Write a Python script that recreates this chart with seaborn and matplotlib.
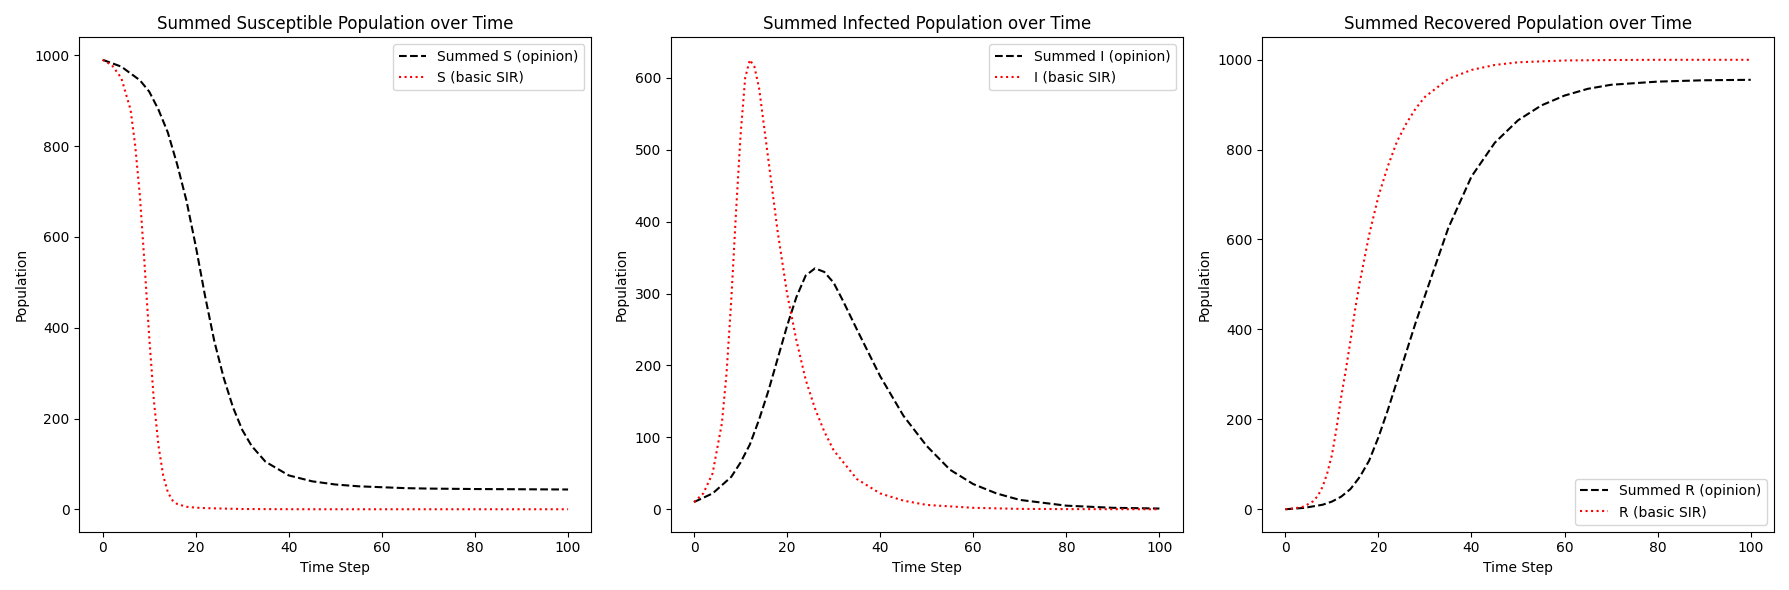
import numpy as np
import matplotlib
matplotlib.use("Agg")
import matplotlib.pyplot as plt
import seaborn as sns

# values
t_sir = [0, 2, 4, 6, 7, 8, 9, 10, 11, 12, 13, 14, 15, 16, 18, 20, 22, 24, 26, 28, 30, 35, 40, 45, 50, 60, 70, 80, 100]
s_sir = [990, 978, 950, 880, 800, 690, 540, 380, 240, 140, 75, 38, 20, 12, 6, 4, 3, 2.5, 2, 1.5, 1, 0.8, 0.6, 0.5, 0.5, 0.5, 0.5, 0.5, 0.5]
i_sir = [10, 22, 50, 120, 190, 290, 410, 520, 600, 625, 615, 585, 535, 485, 385, 300, 235, 180, 140, 108, 82, 42, 22, 12, 6, 2, 0.5, 0.2, 0]
r_sir = [0, 2, 6, 18, 30, 50, 80, 120, 180, 250, 310, 375, 445, 505, 610, 696, 762, 818, 858, 891, 917, 957, 977, 988, 994, 998, 999, 999.5, 999.5]

t_op = [0, 4, 8, 10, 12, 14, 16, 18, 20, 22, 24, 26, 28, 30, 32, 35, 40, 45, 50, 55, 60, 65, 70, 80, 90, 100]
s_op = [990, 975, 945, 920, 880, 830, 760, 680, 580, 470, 370, 290, 225, 175, 140, 105, 75, 62, 55, 51, 49, 47, 46, 45, 44.5, 44]
i_op = [10, 22, 45, 65, 90, 125, 165, 210, 255, 295, 325, 335, 330, 315, 290, 250, 185, 130, 88, 55, 35, 22, 13, 5, 2, 1]
r_op = [0, 3, 10, 17, 28, 45, 72, 108, 160, 220, 285, 350, 415, 475, 535, 625, 740, 815, 865, 898, 920, 935, 944, 951, 954, 955]

panels = [
    ("Susceptible", "S", s_op, s_sir, "upper right"),
    ("Infected", "I", i_op, i_sir, "upper right"),
    ("Recovered", "R", r_op, r_sir, "lower right"),
]

fig, axes = plt.subplots(1, 3, figsize=(17.89, 5.9), dpi=100)
for ax, (name, key, op, sir, loc) in zip(axes, panels):
    sns.lineplot(x=t_op, y=op, ax=ax, color="black", linestyle="--", label=f"Summed {key} (opinion)")
    sns.lineplot(x=t_sir, y=sir, ax=ax, color="red", linestyle=":", label=f"{key} (basic SIR)")
    ax.set_title(f"Summed {name} Population over Time")
    ax.set_xlabel("Time Step")
    ax.set_ylabel("Population")
    ax.legend(loc=loc)

plt.tight_layout()
plt.savefig("out.png")
